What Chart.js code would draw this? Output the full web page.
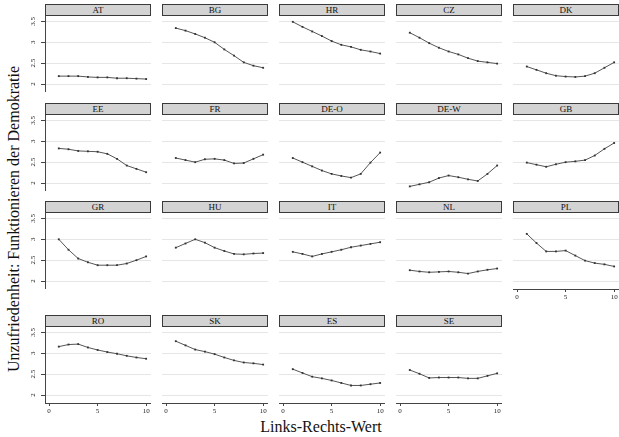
<!DOCTYPE html>
<html><head><meta charset="utf-8">
<script src="https://cdn.jsdelivr.net/npm/chart.js@4/dist/chart.umd.min.js"></script>
<style>
html,body{margin:0;padding:0;background:#fff;}
#fig{position:relative;width:619px;height:437px;overflow:hidden;font-family:"Liberation Serif","Times New Roman",serif;background:#fff;}
.hdr{position:absolute;box-sizing:border-box;height:12px;background:#d3d3d3;border:1px solid #3a3a3a;font-size:9px;line-height:10px;text-align:center;color:#111;white-space:nowrap;}
canvas{position:absolute;}
.ytitle{position:absolute;left:14px;top:219px;transform:translate(-50%,-50%) rotate(-90deg);white-space:nowrap;font-size:16px;color:#111;}
.xtitle{position:absolute;left:321px;top:427px;transform:translate(-50%,-50%);white-space:nowrap;font-size:16px;color:#111;}
</style></head>
<body><div id="fig">
<div class="ytitle">Unzufriedenheit: Funktionieren der Demokratie</div>
<div class="xtitle">Links-Rechts-Wert</div>
</div>
<script>
const countries = ["AT","BG","HR","CZ","DK","EE","FR","DE-O","DE-W","GB","GR","HU","IT","NL","PL","RO","SK","ES","SE"];
const leftRight = [1,2,3,4,5,6,7,8,9,10];
const yTicks = [2, 2.5, 3, 3.5];
const xTicks = [0, 5, 10];

const AT   = [2.19, 2.19, 2.19, 2.17, 2.16, 2.16, 2.14, 2.14, 2.13, 2.12];
const BG   = [3.34, 3.28, 3.20, 3.11, 3.00, 2.83, 2.68, 2.52, 2.44, 2.39];
const HR   = [3.49, 3.37, 3.26, 3.15, 3.03, 2.94, 2.89, 2.82, 2.78, 2.73];
const CZ   = [3.23, 3.11, 2.98, 2.87, 2.78, 2.71, 2.62, 2.55, 2.52, 2.49];
const DK   = [2.42, 2.34, 2.26, 2.20, 2.18, 2.17, 2.19, 2.26, 2.39, 2.52];
const EE   = [2.83, 2.81, 2.77, 2.76, 2.75, 2.70, 2.58, 2.42, 2.34, 2.26];
const FR   = [2.60, 2.55, 2.50, 2.57, 2.58, 2.55, 2.47, 2.48, 2.58, 2.68];
const DE_O = [2.60, 2.50, 2.40, 2.30, 2.22, 2.17, 2.13, 2.22, 2.49, 2.73];
const DE_W = [1.92, 1.97, 2.02, 2.12, 2.18, 2.14, 2.09, 2.05, 2.22, 2.42];
const GB   = [2.49, 2.44, 2.39, 2.45, 2.50, 2.52, 2.55, 2.66, 2.82, 2.96];
const GR   = [3.00, 2.75, 2.54, 2.45, 2.38, 2.38, 2.38, 2.42, 2.50, 2.59];
const HU   = [2.80, 2.90, 3.00, 2.92, 2.80, 2.72, 2.65, 2.64, 2.66, 2.67];
const IT   = [2.70, 2.65, 2.59, 2.65, 2.70, 2.75, 2.81, 2.85, 2.89, 2.93];
const NL   = [2.26, 2.23, 2.21, 2.22, 2.23, 2.21, 2.18, 2.23, 2.27, 2.30];
const PL   = [3.13, 2.91, 2.71, 2.71, 2.73, 2.61, 2.49, 2.43, 2.40, 2.35];
const RO   = [3.16, 3.21, 3.22, 3.14, 3.08, 3.03, 2.99, 2.94, 2.90, 2.87];
const SK   = [3.29, 3.19, 3.09, 3.04, 2.98, 2.90, 2.83, 2.78, 2.76, 2.73];
const ES   = [2.62, 2.53, 2.44, 2.40, 2.35, 2.29, 2.23, 2.23, 2.26, 2.29];
const SE   = [2.60, 2.51, 2.41, 2.42, 2.42, 2.42, 2.40, 2.40, 2.46, 2.52];

const series = [AT, BG, HR, CZ, DK, EE, FR, DE_O, DE_W, GB, GR, HU, IT, NL, PL, RO, SK, ES, SE];

const colX = [45, 162, 279, 396, 513];
const rowTop = [16, 115, 213, 327];
const PW = 106, PH = 76, PADL = 40, PADB = 16;
const FONT = "'Liberation Serif','Times New Roman',serif";
const fig = document.getElementById('fig');

countries.forEach((name, i) => {
  const col = i % 5, row = Math.floor(i / 5);
  const hasY = col === 0;
  const hasX = row === 3 || (row === 2 && col === 4);
  const px = colX[col], py = rowTop[row];

  const hdr = document.createElement('div');
  hdr.className = 'hdr';
  hdr.style.left = px + 'px';
  hdr.style.top = (py - 12) + 'px';
  hdr.style.width = PW + 'px';
  hdr.textContent = name;
  fig.appendChild(hdr);

  const cv = document.createElement('canvas');
  const w = PW + (hasY ? PADL : 0), h = PH + (hasX ? PADB : 0);
  cv.width = w; cv.height = h;
  cv.style.width = w + 'px'; cv.style.height = h + 'px';
  cv.style.left = (px - (hasY ? PADL : 0)) + 'px';
  cv.style.top = py + 'px';
  fig.appendChild(cv);

  new Chart(cv, {
    type: 'line',
    data: {
      datasets: [{
        data: leftRight.map((x, k) => ({x: x, y: series[i][k]})),
        borderColor: '#555',
        borderWidth: 1,
        tension: 0,
        pointStyle: 'rect',
        pointRadius: 1.3,
        pointBorderWidth: 0,
        pointBackgroundColor: '#333'
      }]
    },
    options: {
      responsive: false,
      animation: false,
      devicePixelRatio: 1,
      layout: {autoPadding: false, padding: 0},
      plugins: {legend: {display: false}, tooltip: {enabled: false}, title: {display: false}},
      scales: {
        x: {
          type: 'linear', min: -0.42, max: 10.5,
          display: hasX,
          afterBuildTicks: s => { s.ticks = xTicks.map(v => ({value: v})); },
          grid: {display: true, drawOnChartArea: false, drawTicks: true, tickLength: 3, tickColor: '#444', color: '#444'},
          border: {display: true, color: '#444', width: 1},
          ticks: {font: {family: FONT, size: 7}, color: '#222', padding: 1, autoSkip: false, minRotation: 0, maxRotation: 0, callback: v => String(v)},
          afterFit: s => { s.height = hasX ? PADB : 0; s.paddingLeft = 0; s.paddingRight = 0; }
        },
        y: {
          type: 'linear', min: 1.81, max: 3.63, position: 'left',
          afterBuildTicks: s => { s.ticks = yTicks.map(v => ({value: v})); },
          grid: {color: '#e6e6e6', lineWidth: 1, drawTicks: hasY, tickLength: 4, tickColor: '#444'},
          border: {display: hasY, color: '#444', width: 1},
          ticks: {display: hasY, font: {family: FONT, size: 7}, color: '#222', minRotation: 90, maxRotation: 90, crossAlign: 'center', padding: 3, callback: v => String(v)},
          afterFit: s => { s.width = hasY ? PADL : 0; s.paddingTop = 0; s.paddingBottom = 0; }
        }
      }
    }
  });
});
</script>
</body></html>
